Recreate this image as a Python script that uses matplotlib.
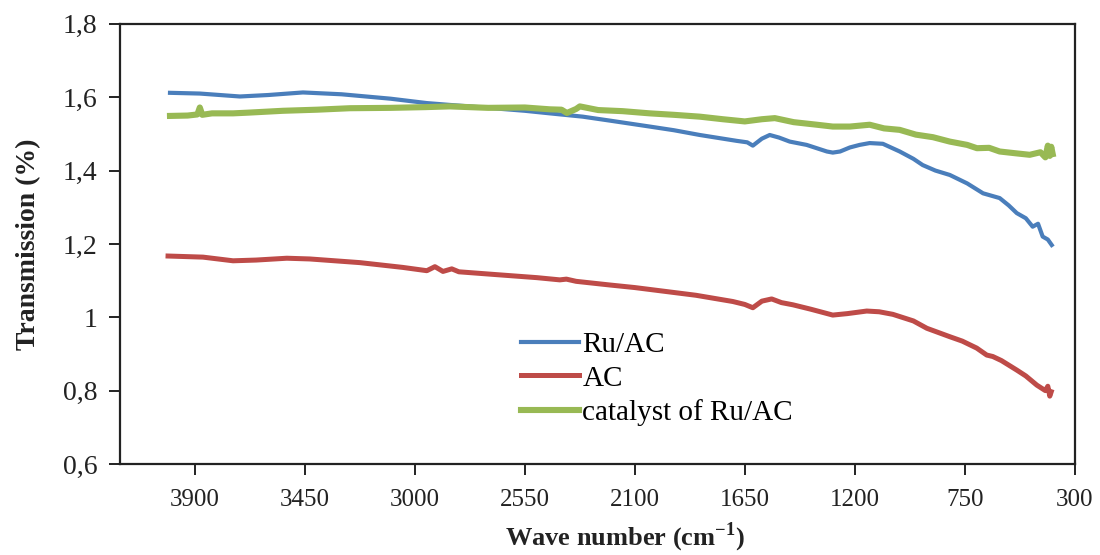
import numpy as np
import matplotlib.pyplot as plt
from matplotlib.ticker import FuncFormatter

plt.rcParams['font.family'] = ['Liberation Serif', 'DejaVu Serif']
plt.rcParams['mathtext.fontset'] = 'custom'
plt.rcParams['mathtext.rm'] = 'Liberation Serif'
plt.rcParams['mathtext.bf'] = 'Liberation Serif:bold'

# FTIR spectra, wave number (cm-1) vs transmission
wn_ru = [4002, 3880, 3716, 3600, 3458, 3300, 3100, 2951, 2857, 2700, 2550, 2448,
         2313, 2200, 2039, 1940, 1834, 1683, 1640, 1617, 1580, 1548, 1510, 1466,
         1397, 1314, 1290, 1260, 1220, 1180, 1139, 1085, 1016, 960, 922, 870, 811,
         740, 675, 607, 570, 537, 500, 472, 450, 431, 410, 394]
t_ru = [1.612, 1.610, 1.602, 1.606, 1.613, 1.608, 1.596, 1.584, 1.579, 1.571,
        1.563, 1.556, 1.547, 1.536, 1.520, 1.510, 1.497, 1.481, 1.477, 1.468,
        1.487, 1.497, 1.490, 1.479, 1.470, 1.452, 1.449, 1.452, 1.463, 1.470,
        1.475, 1.473, 1.452, 1.432, 1.415, 1.400, 1.388, 1.365, 1.338, 1.325,
        1.305, 1.284, 1.270, 1.247, 1.255, 1.220, 1.212, 1.197]

wn_ac = [4010, 3867, 3744, 3650, 3524, 3430, 3225, 3050, 2951, 2918, 2885, 2849,
         2820, 2681, 2500, 2407, 2380, 2340, 2202, 2100, 1969, 1850, 1699, 1650,
         1617, 1580, 1540, 1500, 1453, 1380, 1290, 1230, 1151, 1100, 1044, 960,
         905, 811, 760, 701, 660, 635, 600, 537, 500, 455, 420, 410, 402, 396]
t_ac = [1.167, 1.164, 1.154, 1.156, 1.161, 1.159, 1.149, 1.136, 1.127, 1.138,
        1.125, 1.132, 1.124, 1.117, 1.108, 1.102, 1.104, 1.098, 1.088, 1.081,
        1.070, 1.060, 1.043, 1.035, 1.026, 1.044, 1.050, 1.040, 1.034, 1.022,
        1.006, 1.010, 1.017, 1.015, 1.008, 0.990, 0.970, 0.947, 0.935, 0.916,
        0.897, 0.893, 0.882, 0.856, 0.840, 0.815, 0.800, 0.812, 0.785, 0.797]

wn_cat = [4002, 3930, 3890, 3880, 3870, 3830, 3744, 3680, 3540, 3400, 3266, 3100,
          2957, 2857, 2700, 2550, 2448, 2400, 2378, 2340, 2325, 2250, 2150, 2039,
          1940, 1834, 1740, 1650, 1580, 1527, 1450, 1355, 1290, 1220, 1139, 1080,
          1016, 950, 880, 811, 740, 700, 650, 607, 540, 484, 440, 420, 410, 402,
          396, 390]
t_cat = [1.549, 1.550, 1.553, 1.572, 1.552, 1.556, 1.556, 1.558, 1.563, 1.566,
         1.570, 1.571, 1.573, 1.575, 1.571, 1.572, 1.567, 1.566, 1.557, 1.568,
         1.575, 1.565, 1.562, 1.556, 1.552, 1.547, 1.540, 1.534, 1.540, 1.543,
         1.532, 1.525, 1.520, 1.520, 1.525, 1.515, 1.511, 1.498, 1.491, 1.479,
         1.470, 1.461, 1.462, 1.452, 1.447, 1.443, 1.450, 1.436, 1.468, 1.440,
         1.465, 1.445]

fig, ax = plt.subplots(figsize=(11, 5.55), dpi=100)
fig.subplots_adjust(left=0.109, right=0.977, top=0.957, bottom=0.164)

ax.plot(wn_ru, t_ru, color='#4A7EBB', lw=3.0, label='Ru/AC', zorder=3)
ax.plot(wn_ac, t_ac, color='#BE4B48', lw=3.6, label='AC', zorder=3)
ax.plot(wn_cat, t_cat, color='#98B954', lw=4.4, label='catalyst of Ru/AC', zorder=4)

ax.set_xlim(4207, 300)
ax.set_ylim(0.6, 1.8)
ax.set_xticks(np.arange(3900, 299, -450))
ax.set_yticks(np.arange(0.6, 1.81, 0.2))
ax.yaxis.set_major_formatter(FuncFormatter(
    lambda v, p: '1' if abs(v - 1) < 1e-9 else f'{v:.1f}'.replace('.', ',')))

for s in ax.spines.values():
    s.set_linewidth(1.6)
    s.set_color('#222222')
ax.tick_params(axis='both', direction='out', length=8, width=1.4,
               colors='#222222', labelsize=20)
ax.tick_params(axis='y', pad=8)
ax.tick_params(axis='x', pad=10, labelsize=18)

ax.set_xlabel('Wave number (cm$^{\\mathbf{-1}}$)', fontsize=19, fontweight='bold',
              color='#222222')
ax.xaxis.set_label_coords(0.529, -0.128)
ax.set_ylabel('Transmission (%)', fontsize=20, fontweight='bold', color='#222222')
ax.yaxis.set_label_coords(-0.083, 0.5)

ax.legend(loc='lower left', bbox_to_anchor=(0.408, 0.06), frameon=False,
          fontsize=21, handlelength=2.0, handletextpad=0.1, labelspacing=0.25,
          borderaxespad=0)

fig.savefig('out.png', dpi=100)
